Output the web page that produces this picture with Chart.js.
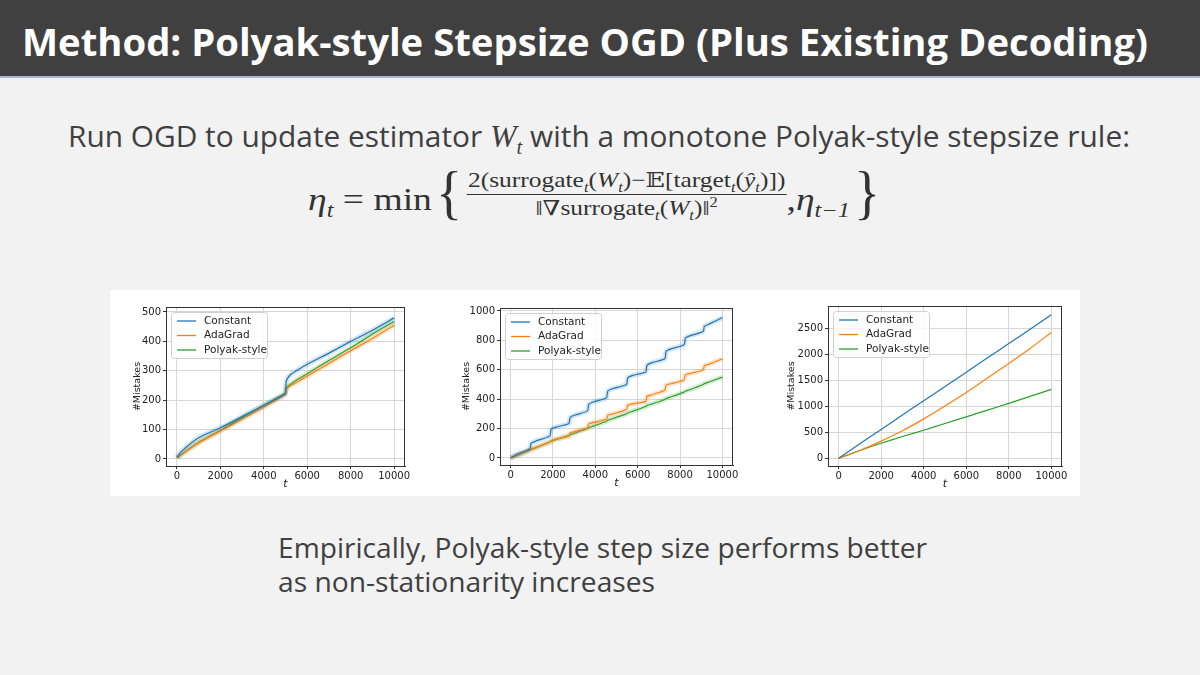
<!DOCTYPE html>
<html>
<head>
<meta charset="utf-8">
<script src="https://cdn.jsdelivr.net/npm/chart.js@4.4.1/dist/chart.umd.min.js"></script>
<style>
body{margin:0;width:1200px;height:675px;background:#f2f2f2;position:relative;overflow:hidden;font-family:"Open Sans","Noto Sans",sans-serif;color:#404040;}
#head{position:absolute;left:0;top:0;width:1200px;height:76px;background:#404040;border-bottom:2px solid #a9b9cf;}
.fit{position:absolute;white-space:nowrap;transform-origin:0 0;}
#title{left:22px;top:16px;font-size:37px;font-weight:700;color:#fff;}
#lead{left:68px;top:116px;font-size:29px;}
#lead i{font-family:"Liberation Serif",serif;font-size:31px;}
#formula{left:308px;top:166px;font-family:"Liberation Serif","DejaVu Serif",serif;color:#333;display:flex;align-items:center;}
.big{font-size:31px;position:relative;top:6px;}
.brace{font-size:60px;line-height:60px;display:inline-block;transform:scaleX(.75);margin-top:-4px;}
.frac{display:inline-flex;flex-direction:column;align-items:center;font-size:21px;line-height:25px;}
.num{border-bottom:1.5px solid #333;padding:0 1px 1px;}
.den{padding-top:1px;}
sub,sup{font-size:65%;line-height:0;}
#panel{position:absolute;left:110px;top:290px;width:970px;height:206px;background:#fff;}
canvas{position:absolute;top:290px;}
#c1{left:110px;} #c2{left:440px;} #c3{left:770px;}
.foot{left:278px;font-size:28px;}
#foot1{top:528px;} #foot2{top:562px;}
</style>
</head>
<body>
<div id="head"></div>
<div id="title" class="fit" data-w="1126">Method: Polyak-style Stepsize OGD (Plus Existing Decoding)</div>
<div id="lead" class="fit" data-w="1062">Run OGD to update estimator <i>W<sub>t</sub></i> with a monotone Polyak-style stepsize rule:</div>
<div id="formula" class="fit" data-w="577">
  <span class="big"><i>η<sub>t</sub></i>&nbsp;= min</span>
  <span class="brace">{</span>
  <span class="frac">
    <span class="num">2(surrogate<sub><i>t</i></sub>(<i>W<sub>t</sub></i>)−𝔼[target<sub><i>t</i></sub>(<i>ŷ<sub>t</sub></i>)])</span>
    <span class="den">‖∇surrogate<sub><i>t</i></sub>(<i>W<sub>t</sub></i>)‖<sup>2</sup></span>
  </span>
  <span class="big">,<i>η<sub>t−1</sub></i></span>
  <span class="brace">}</span>
</div>
<div id="panel"></div>
<canvas id="c1" width="330" height="205"></canvas>
<canvas id="c2" width="330" height="205"></canvas>
<canvas id="c3" width="310" height="205"></canvas>
<div id="foot1" class="fit foot" data-w="649">Empirically, Polyak-style step size performs better</div>
<div id="foot2" class="fit foot" data-w="377">as non-stationarity increases</div>

<script>
const seriesNames = ['Constant', 'AdaGrad', 'Polyak-style'];
const seriesColors = ['#1f77b4', '#ff7f0e', '#2ca02c'];
const xTicks = [0, 2000, 4000, 6000, 8000, 10000];

// chart 1 : one change point at t = 5000
const t1 = [0, 200, 1000, 2000, 3000, 4000, 4900, 5000, 5030, 5100, 5250, 5500, 6000, 7000, 8000, 9000, 10000];
const constant1 = [5, 25, 72, 106, 144, 182, 218, 226, 262, 275, 288, 300, 322, 360, 400, 438, 480];
const adagrad1 = [3, 14, 55, 95, 135, 176, 214, 220, 236, 242, 250, 260, 282, 325, 368, 410, 455];
const polyak1 = [3, 15, 56, 97, 140, 183, 219, 225, 240, 246, 255, 268, 290, 335, 378, 425, 468];
const yTicks1 = [0, 100, 200, 300, 400, 500];

// chart 2 : periodic shifts
const t2 = [0, 300, 910, 970, 1200, 1855, 1915, 2150, 2750, 2810, 3050, 3630, 3690, 3930, 4530, 4590, 4830,
  5470, 5530, 5770, 6380, 6440, 6680, 7280, 7340, 7580, 8190, 8250, 8490, 9090, 9150, 9390, 10000];
const constant2 = [0, 25, 62, 100, 115, 150, 195, 210, 235, 275, 292, 320, 365, 382, 410, 455, 472,
  500, 545, 562, 585, 630, 648, 675, 725, 742, 770, 815, 832, 860, 895, 912, 955];
const adagrad2 = [0, 17, 52, 58, 70, 108, 116, 128, 150, 170, 180, 205, 232, 242, 265, 290, 300,
  330, 358, 368, 385, 418, 430, 460, 495, 505, 530, 565, 575, 598, 628, 638, 675];
const polyak2 = [0, 17, 52, 58, 70, 108, 114, 126, 152, 158, 170, 200, 206, 218, 250, 256, 268,
  300, 306, 318, 350, 356, 368, 398, 404, 416, 448, 454, 466, 500, 506, 518, 550];
const yTicks2 = [0, 200, 400, 600, 800, 1000];

// chart 3 : drifting
const t3 = [0, 1000, 2000, 3000, 4000, 5000, 6000, 7000, 8000, 9000, 10000];
const constant3 = [0, 280, 555, 835, 1110, 1385, 1660, 1940, 2215, 2490, 2770];
const adagrad3 = [0, 150, 330, 530, 760, 1010, 1270, 1550, 1830, 2120, 2430];
const polyak3 = [0, 150, 290, 420, 540, 670, 800, 930, 1060, 1195, 1330];
const yTicks3 = [0, 500, 1000, 1500, 2000, 2500];

// squeeze text blocks to the widths of the slide
document.querySelectorAll('.fit').forEach(el => {
  const w = el.getBoundingClientRect().width;
  el.style.transform = 'scaleX(' + (el.dataset.w / w) + ')';
});

const tickFont = {family: 'DejaVu Sans', size: 10};

// matplotlib-like frame + legend in the upper left of the plot
const boxLegend = {
  id: 'boxLegend',
  afterDatasetsDraw(chart) {
    const a = chart.chartArea, ctx = chart.ctx;
    ctx.save();
    ctx.strokeStyle = '#333';
    ctx.lineWidth = 1;
    ctx.strokeRect(a.left + 0.5, a.top + 0.5, a.right - a.left - 1, a.bottom - a.top);
    const x = a.left + 5, y = a.top + 5;
    ctx.fillStyle = 'rgba(255,255,255,0.85)';
    ctx.strokeStyle = '#d0d0d0';
    ctx.beginPath();
    ctx.roundRect(x + 0.5, y + 0.5, 96, 46, 3);
    ctx.fill();
    ctx.stroke();
    ctx.font = '10.5px "DejaVu Sans"';
    ctx.textBaseline = 'middle';
    seriesNames.forEach((name, i) => {
      const yy = y + 9 + i * 14.5;
      ctx.strokeStyle = seriesColors[i];
      ctx.lineWidth = 1.3;
      ctx.beginPath();
      ctx.moveTo(x + 6, yy);
      ctx.lineTo(x + 25, yy);
      ctx.stroke();
      ctx.fillStyle = '#222';
      ctx.fillText(name, x + 33, yy);
    });
    ctx.restore();
  }
};

function makeChart(id, t, series, yTicks, yMin, yMax, pad, yWidth, band) {
  const datasets = [];
  series.forEach((vals, i) => {
    const pts = t.map((tt, k) => ({x: tt, y: vals[k]}));
    if (band) {
      datasets.push({data: pts, borderColor: seriesColors[i] + '30', borderWidth: 5, pointRadius: 0});
    }
    datasets.push({label: seriesNames[i], data: pts, borderColor: seriesColors[i], borderWidth: 1.2, pointRadius: 0});
  });
  return new Chart(document.getElementById(id), {
    type: 'line',
    data: {datasets: datasets},
    plugins: [boxLegend],
    options: {
      responsive: false,
      animation: false,
      layout: {padding: pad},
      plugins: {legend: {display: false}, tooltip: {enabled: false}},
      elements: {line: {tension: 0.2}},
      scales: {
        x: {
          type: 'linear', min: -500, max: 10500,
          afterBuildTicks: s => { s.ticks = xTicks.map(v => ({value: v})); },
          afterFit: s => { s.height = 25; },
          ticks: {font: tickFont, color: '#222', maxRotation: 0, padding: 1, callback: v => String(v)},
          grid: {color: '#d6d6d6', tickColor: '#333', tickLength: 3},
          border: {color: '#333'},
          title: {display: true, text: 't', font: {family: 'DejaVu Sans', style: 'italic', size: 11}, color: '#222', padding: 0}
        },
        y: {
          type: 'linear', min: yMin, max: yMax,
          afterBuildTicks: s => { s.ticks = yTicks.map(v => ({value: v})); },
          afterFit: s => { s.width = yWidth; },
          ticks: {font: tickFont, color: '#222', padding: 2, callback: v => String(v)},
          grid: {color: '#d6d6d6', tickColor: '#333', tickLength: 3},
          border: {color: '#333'},
          title: {display: true, text: '#Mistakes', font: {family: 'DejaVu Sans', size: 9.5}, color: '#222', padding: 0}
        }
      }
    }
  });
}

makeChart('c1', t1, [constant1, adagrad1, polyak1], yTicks1, -24, 517, {left: 22, top: 17, right: 35, bottom: 4}, 34, true);
makeChart('c2', t2, [constant2, adagrad2, polyak2], yTicks2, -48, 1020, {left: 21, top: 18, right: 37, bottom: 5}, 39, true);
makeChart('c3', t3, [constant3, adagrad3, polyak3], yTicks3, -150, 2940, {left: 16, top: 16, right: 18, bottom: 4}, 42, false);
</script>
</body>
</html>
